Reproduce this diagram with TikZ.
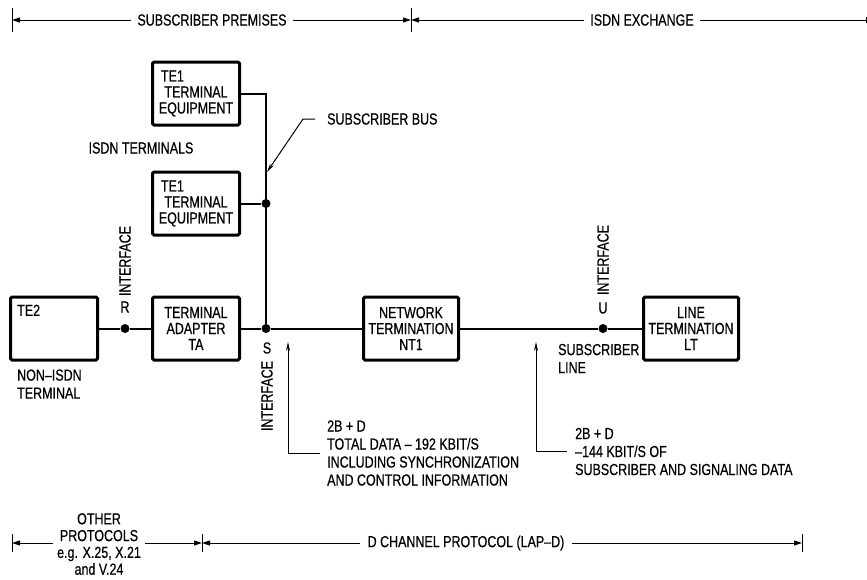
\documentclass[tikz,border=0pt]{standalone}
\usepackage{fontspec}
\setmainfont{Liberation Sans}[FakeStretch=0.78, FakeBold=0.5]
\usetikzlibrary{arrows.meta, positioning, calc}

\begin{document}
\begin{tikzpicture}[
    x=1pt, y=-1pt,
    >={Stealth[length=8pt, width=5pt, inset=0pt]},
    txt/.style={font=\fontsize{16}{18}\selectfont, inner sep=2pt},
    box/.style={rectangle, rounded corners=1.5pt, draw, line width=3pt,
                minimum width=#1, minimum height=63pt, align=center,
                font=\fontsize{16}{16}\selectfont, inner sep=0pt},
    box/.default=87pt,
    wire/.style={line width=2pt},
    dot/.style={circle, fill, inner sep=0pt, minimum size=9pt},
    dim/.style={line width=1pt},
    endbar/.style={line width=1pt},
    lead/.style={->, line width=1pt, >={Stealth[length=9pt, width=4pt]}},
]
\useasboundingbox (0,0) rectangle (867,579);

% ── Row 1: Equipment ──
\node[box] (te2) at (54,328.5) {};
\node[txt, anchor=north west, inner sep=0pt] (te2lbl) at ([xshift=8pt, yshift=-9pt]te2.north west) {TE2};
\node[box, right=52pt of te2] (ta) {TERMINAL\\ADAPTER\\TA};
\node[box=95pt, right=121pt of ta] (nt1) {NETWORK\\TERMINATION\\NT1};
\node[box=95pt, right=182pt of nt1] (lt) {LINE\\TERMINATION\\LT};

% ── ISDN terminals on the bus ──
\node[box, above=59pt of ta] (te1b) {\makebox[70pt][l]{TE1}\\TERMINAL\\EQUIPMENT};
\node[box, above=44pt of te1b] (te1a) {\makebox[70pt][l]{TE1}\\TERMINAL\\EQUIPMENT};

% ── Interface points ──
\node[dot] (r) at ($(te2.east)!0.5!(ta.west)$) {};
\node[dot] (s) at (266,328.5) {};
\node[dot] (u) at (603,328.5) {};
\node[dot] (busdot) at (s |- te1b) {};

% ── Lines ──
\draw[wire] (te2) -- (r) -- (ta);
\draw[wire] (ta) -- (s) -- (nt1);
\draw[wire] (nt1) -- (u) -- (lt);
\draw[wire] (te1a) -| (s);
\draw[wire] (te1b) -- (busdot);

% ── Interface labels ──
\node[txt] (rlbl) at (125,307) {R};
\node[txt, rotate=90] (rint) at (125,261) {INTERFACE};
\node[txt] (slbl) at (267,348) {S};
\node[txt, rotate=90] (sint) at (267,396) {INTERFACE};
\node[txt] (ulbl) at (603,308) {U};
\node[txt, rotate=90] (uint) at (603,260) {INTERFACE};

% ── Other labels ──
\node[txt] (isdnterm) at (141,148) {ISDN TERMINALS};
\node[txt, align=left, anchor=west] (nonisdn) at (15,384) {NON--ISDN\\TERMINAL};
\node[txt, align=left, anchor=west] (subline) at (556,358.5) {SUBSCRIBER\\LINE};

% ── Leaders ──
\node[txt, anchor=west] (busnote) at (325,119) {SUBSCRIBER BUS};
\coordinate (bustip) at (267,172);
\draw[lead] ([xshift=-10pt]busnote.west) -- ++(-12,0) -- (bustip);

\node[txt, align=left, anchor=west] (note1) at (325,453)
    {2B + D\\TOTAL DATA -- 192 KBIT/S\\INCLUDING SYNCHRONIZATION\\AND CONTROL INFORMATION};
\coordinate (stip) at (288,342);
\draw[lead] ([xshift=-5pt]note1.west) -| (stip);

\node[txt, align=left, anchor=west] (note2) at (573,451.5)
    {2B + D\\--144 KBIT/S OF\\SUBSCRIBER AND SIGNALING DATA};
\coordinate (ltip) at (536,342);
\draw[lead] ([xshift=-6pt]note2.west) -| (ltip);

% ── Top dimensions ──
\node[txt, inner sep=6pt] (prem) at (212,20) {SUBSCRIBER PREMISES};
\node[txt, inner sep=6pt] (exch) at (642,20) {ISDN EXCHANGE};
\coordinate (t0) at (12,20);
\coordinate (t1) at (411,20);
\coordinate (t2) at (866,20);
\draw[dim, <-] (t0) -- (prem);
\draw[dim, ->] (prem) -- (t1);
\draw[dim, <-] (t1) -- (exch);
\draw[dim] (exch) -- (t2);
\draw[endbar] ([yshift=12pt]t0) -- ([yshift=-12pt]t0);
\draw[endbar] ([yshift=12pt]t1) -- ([yshift=-12pt]t1);
\draw[endbar] ([yshift=3pt]t2) -- ([yshift=-3pt]t2);

% ── Bottom dimensions ──
\node[txt, align=center, inner sep=4pt, font=\fontsize{16}{16.8}\selectfont] (other) at (99,544) {OTHER\\PROTOCOLS\\e.g. X.25, X.21\\and V.24};
\node[txt, inner sep=7pt] (dchan) at (466,543) {D CHANNEL PROTOCOL (LAP--D)};
\coordinate (b0) at (12,543);
\coordinate (b1) at (202,543);
\coordinate (b2) at (802,543);
\draw[dim, <-] (b0) -- (other.west |- b0);
\draw[dim, ->] (other.east |- b1) -- (b1);
\draw[dim, <-] (b1) -- (dchan);
\draw[dim, ->] (dchan) -- (b2);
\draw[endbar] ([yshift=9pt]b0) -- ([yshift=-9pt]b0);
\draw[endbar] ([yshift=9pt]b1) -- ([yshift=-9pt]b1);
\draw[endbar] ([yshift=9pt]b2) -- ([yshift=-9pt]b2);

\end{tikzpicture}
\end{document}
